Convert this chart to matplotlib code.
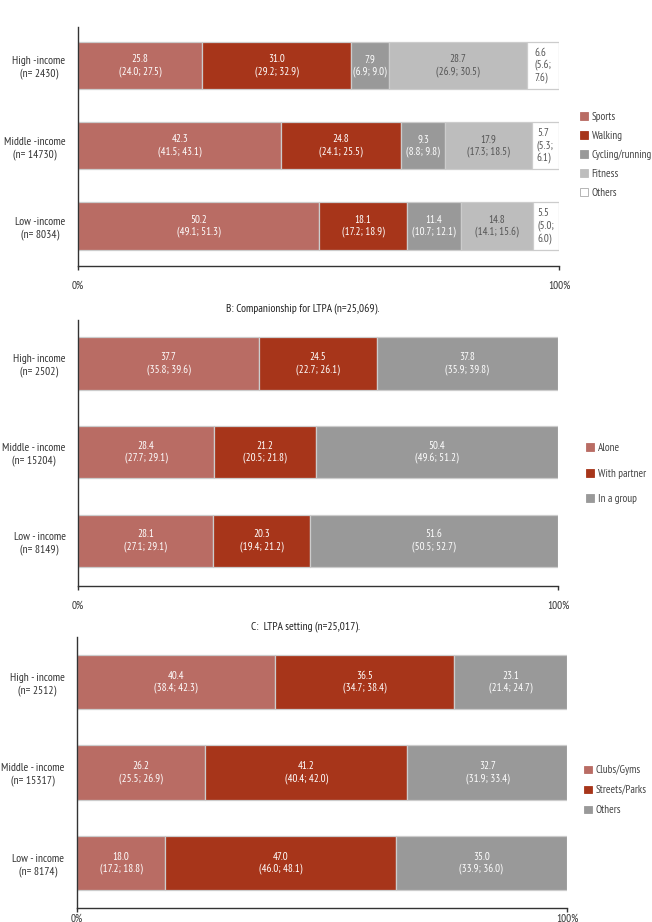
#!/usr/bin/env python3
import matplotlib

matplotlib.use("Agg")
import matplotlib.pyplot as plt
from matplotlib import font_manager
from matplotlib.patches import Patch

# narrow face like the original; fall back to condensed DejaVu
_names = {f.name for f in font_manager.fontManager.ttflist}
if "PT Sans Narrow" in _names:
    plt.rcParams["font.family"] = ["PT Sans Narrow", "DejaVu Sans"]
    FS = 7.9
else:
    plt.rcParams["font.family"] = ["DejaVu Sans"]
    plt.rcParams["font.stretch"] = "condensed"
    FS = 6.4

W, H = 652, 922
OUT = "out.png"

# Panel A: LTPA type (rows bottom -> top: low, middle, high)
A_GROUPS = ["Low -income\n(n= 8034)", "Middle -income\n(n= 14730)", "High -income\n(n= 2430)"]
A_SPORTS = [50.2, 42.3, 25.8]
A_SPORTS_CI = ["(49.1; 51.3)", "(41.5; 43.1)", "(24.0; 27.5)"]
A_WALKING = [18.1, 24.8, 31.0]
A_WALKING_CI = ["(17.2; 18.9)", "(24.1; 25.5)", "(29.2; 32.9)"]
A_CYCLING = [11.4, 9.3, 7.9]
A_CYCLING_CI = ["(10.7; 12.1)", "(8.8; 9.8)", "(6.9; 9.0)"]
A_FITNESS = [14.8, 17.9, 28.7]
A_FITNESS_CI = ["(14.1; 15.6)", "(17.3; 18.5)", "(26.9; 30.5)"]
A_OTHERS = [5.5, 5.7, 6.6]
A_OTHERS_CI = ["(5.0;\n6.0)", "(5.3;\n6.1)", "(5.6;\n7.6)"]

# Panel B: companionship
B_TITLE = "B: Companionship for LTPA (n=25,069)."
B_GROUPS = ["Low - income\n(n= 8149)", "Middle - income\n(n= 15204)", "High- income\n(n= 2502)"]
B_ALONE = [28.1, 28.4, 37.7]
B_ALONE_CI = ["(27.1; 29.1)", "(27.7; 29.1)", "(35.8; 39.6)"]
B_PARTNER = [20.3, 21.2, 24.5]
B_PARTNER_CI = ["(19.4; 21.2)", "(20.5; 21.8)", "(22.7; 26.1)"]
B_GROUP = [51.6, 50.4, 37.8]
B_GROUP_CI = ["(50.5; 52.7)", "(49.6; 51.2)", "(35.9; 39.8)"]

# Panel C: setting
C_TITLE = "C:  LTPA setting (n=25,017)."
C_GROUPS = ["Low - income\n(n= 8174)", "Middle - income\n(n= 15317)", "High - income\n(n= 2512)"]
C_CLUBS = [18.0, 26.2, 40.4]
C_CLUBS_CI = ["(17.2; 18.8)", "(25.5; 26.9)", "(38.4; 42.3)"]
C_STREETS = [47.0, 41.2, 36.5]
C_STREETS_CI = ["(46.0; 48.1)", "(40.4; 42.0)", "(34.7; 38.4)"]
C_OTHERS = [35.0, 32.7, 23.1]
C_OTHERS_CI = ["(33.9; 36.0)", "(31.9; 33.4)", "(21.4; 24.7)"]

ROSE = "#b96c64"
RUST = "#a7351a"
GRAY = "#999999"
LIGHT = "#bdbdbd"
EDGE = "#cccccc"
AXIS = "#333333"


def px_axes(fig, left, right, top, bottom):
    return fig.add_axes([left / W, 1 - bottom / H, (right - left) / W, (bottom - top) / H])


def draw_panel(fig, box, groups, series, ylim, height, legend_box, label_gap, xpad=8):
    ax = px_axes(fig, *box)
    ys = list(range(len(groups)))
    left = [0.0] * len(groups)
    handles = []
    for name, vals, cis, face, tcol in series:
        ax.barh(ys, vals, left=left, height=height, color=face,
                edgecolor=EDGE, linewidth=0.9, zorder=2)
        for y, v, ci, l in zip(ys, vals, cis, left):
            ax.text(l + v / 2, y, f"{v:.1f}\n{ci}", ha="center", va="center",
                    multialignment="left" if "\n" in ci else "center",
                    color=tcol, fontsize=FS, linespacing=1.2, zorder=3)
        left = [a + b for a, b in zip(left, vals)]
        handles.append(Patch(facecolor=face, edgecolor="#aaaaaa" if face == "white" else face,
                             linewidth=0.6, label=name))

    ax.set_xlim(0, 100)
    ax.set_ylim(*ylim)
    ax.set_yticks(ys)
    ax.set_yticklabels(groups, fontsize=FS + 0.4, color=AXIS, multialignment="center",
                       linespacing=1.25)
    ax.tick_params(axis="y", length=0, pad=9)
    ax.set_xticks([0, 100])
    ax.set_xticklabels(["0%", "100%"], fontsize=FS + 0.2, color=AXIS)
    ax.tick_params(axis="x", length=3, width=1, color=AXIS, pad=xpad)
    for s in ("top", "right"):
        ax.spines[s].set_visible(False)
    for s in ("left", "bottom"):
        ax.spines[s].set_color(AXIS)
        ax.spines[s].set_linewidth(1.0)

    lx, ly = legend_box
    fig.legend(handles=handles, loc="upper left", bbox_to_anchor=(lx / W, 1 - ly / H),
               frameon=False, fontsize=FS + 0.1, labelcolor="#444444",
               handlelength=0.7, handleheight=0.7, handletextpad=0.35,
               labelspacing=label_gap, borderpad=0, borderaxespad=0)
    return ax


def main():
    fig = plt.figure(figsize=(W / 100, H / 100), dpi=100)

    a_series = [
        ("Sports", A_SPORTS, A_SPORTS_CI, ROSE, "white"),
        ("Walking", A_WALKING, A_WALKING_CI, RUST, "white"),
        ("Cycling/running", A_CYCLING, A_CYCLING_CI, GRAY, "white"),
        ("Fitness", A_FITNESS, A_FITNESS_CI, LIGHT, "#555555"),
        ("Others", A_OTHERS, A_OTHERS_CI, "white", "#555555"),
    ]
    draw_panel(fig, (78, 559, 27, 266), A_GROUPS, a_series, (-0.5, 2.48), 0.59,
               (580, 112), 0.8)

    b_series = [
        ("Alone", B_ALONE, B_ALONE_CI, ROSE, "white"),
        ("With partner", B_PARTNER, B_PARTNER_CI, RUST, "white"),
        ("In a group", B_GROUP, B_GROUP_CI, GRAY, "white"),
    ]
    draw_panel(fig, (78, 558, 320, 586), B_GROUPS, b_series, (-0.51, 2.49), 0.59,
               (586, 443), 1.4)
    fig.text(303 / W, 1 - 309 / H, B_TITLE, ha="center", va="center",
             fontsize=FS + 0.4, color="#222222")

    c_series = [
        ("Clubs/Gyms", C_CLUBS, C_CLUBS_CI, ROSE, "white"),
        ("Streets/Parks", C_STREETS, C_STREETS_CI, RUST, "white"),
        ("Others", C_OTHERS, C_OTHERS_CI, GRAY, "white"),
    ]
    draw_panel(fig, (77, 567, 637, 908), C_GROUPS, c_series, (-0.5, 2.5), 0.6,
               (584, 765), 0.9, xpad=1)
    fig.text(306 / W, 1 - 627 / H, C_TITLE, ha="center", va="center",
             fontsize=FS + 0.4, color="#222222")

    fig.savefig(OUT, dpi=100)


if __name__ == "__main__":
    main()
